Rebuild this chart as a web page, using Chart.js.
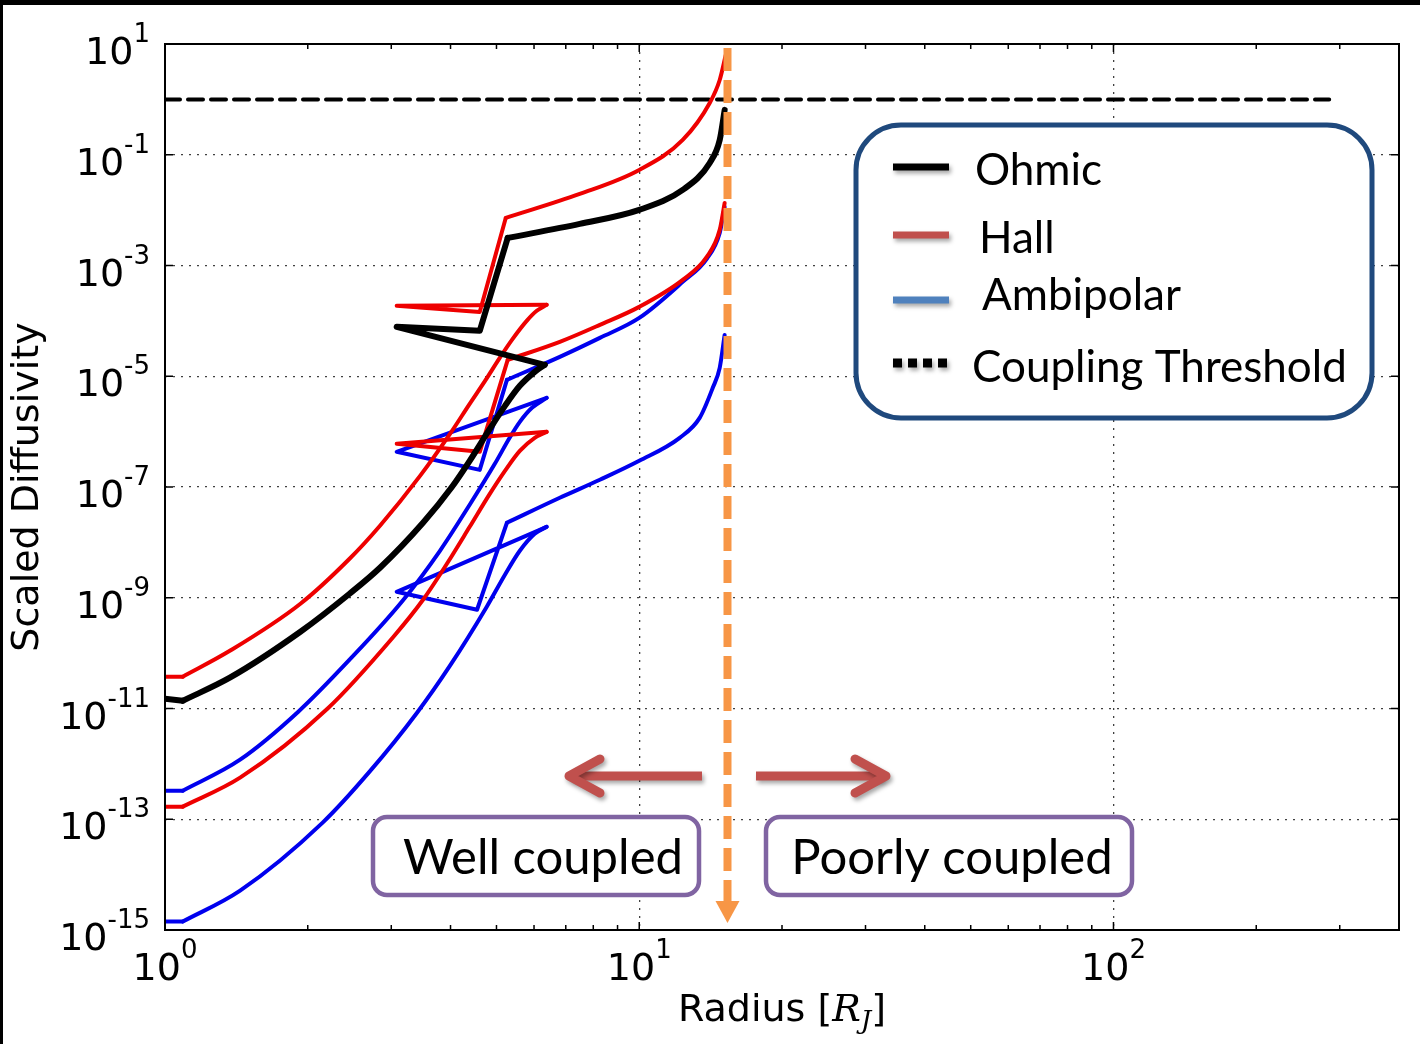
<!DOCTYPE html>
<html>
<head>
<meta charset="utf-8">
<title>Scaled Diffusivity</title>
<script src="https://cdn.jsdelivr.net/npm/chart.js@4.4.0/dist/chart.umd.min.js"></script>
<style>
    html, body { margin: 0; padding: 0; background: #000; }
    #panel { position: absolute; left: 3px; top: 5px; width: 1417px; height: 1039px; background: #fff; }
    canvas { display: block; }
</style>
</head>
<body>
<div id="panel"><canvas id="chart-difusividad" width="1417" height="1039"></canvas></div>
<script>
// Radio en R_J y difusividad escalada de cada curva
const ohmicR = [1.00, 1.09, 1.37, 1.93, 2.45, 2.84, 3.50, 4.03, 4.39, 4.84, 5.21, 5.60, 6.02, 6.32, 3.08, 4.61, 5.28, 7.49, 10.0, 12.35, 14.08, 14.78, 15.14];
const ohmicD = [1.50e-11, 1.38e-11, 3.60e-11, 2.43e-10, 1.18e-9, 3.48e-9, 2.26e-8, 1.01e-7, 2.97e-7, 1.12e-6, 2.92e-6, 6.71e-6, 1.20e-5, 1.61e-5, 7.80e-5, 6.61e-5, 3.15e-3, 5.64e-3, 1.01e-2, 2.32e-2, 7.11e-2, 0.185, 0.646];

const hallUpperR = [1.00, 1.09, 1.37, 1.93, 2.45, 2.84, 3.45, 3.99, 4.39, 4.73, 5.08, 5.39, 5.79, 6.08, 6.38, 3.08, 4.61, 5.23, 7.49, 10.0, 12.35, 14.08, 14.78, 15.22];
const hallUpperD = [3.75e-11, 3.75e-11, 1.10e-10, 7.80e-10, 5.06e-9, 2.0e-8, 1.59e-7, 9.12e-7, 3.18e-6, 8.26e-6, 2.15e-5, 4.54e-5, 1.0e-4, 1.52e-4, 1.95e-4, 1.87e-4, 1.45e-4, 7.23e-3, 1.96e-2, 5.32e-2, 0.185, 0.861, 2.24, 6.31];

const hallLowerR = [1.00, 1.09, 1.44, 2.20, 3.02, 3.50, 3.93, 4.39, 4.84, 5.21, 5.60, 6.02, 6.38, 3.08, 4.61, 5.28, 6.80, 8.26, 10.0, 12.35, 13.88, 14.78, 15.14];
const hallLowerD = [1.69e-13, 1.69e-13, 5.64e-13, 9.9e-12, 1.90e-10, 9.2e-10, 4.11e-9, 1.91e-8, 7.53e-8, 1.96e-7, 4.50e-7, 7.73e-7, 9.9e-7, 6.03e-7, 4.32e-7, 1.98e-5, 4.18e-5, 8.47e-5, 1.79e-4, 5.50e-4, 1.43e-3, 4.40e-3, 1.35e-2];

const ambiUpperR = [1.00, 1.09, 1.44, 1.91, 2.45, 3.17, 3.80, 4.39, 4.96, 5.33, 5.60, 5.94, 6.38, 3.08, 4.61, 5.26, 6.80, 8.26, 10.0, 12.35, 13.88, 14.78, 15.14];
const ambiUpperD = [3.28e-13, 3.28e-13, 1.19e-12, 8.75e-12, 7.6e-11, 8.83e-10, 7.05e-9, 4.78e-8, 2.62e-7, 7.73e-7, 1.50e-6, 2.69e-6, 4.07e-6, 4.32e-7, 2.04e-7, 8.61e-6, 2.24e-5, 4.93e-5, 1.13e-4, 5.06e-4, 1.32e-3, 3.87e-3, 1.14e-2];

const ambiLowerR = [1.00, 1.09, 1.44, 2.15, 2.70, 3.40, 3.99, 4.77, 5.21, 5.60, 6.02, 6.38, 3.08, 4.55, 5.26, 6.80, 8.26, 10.0, 12.17, 13.41, 14.29, 14.78, 15.14];
const ambiLowerD = [1.42e-15, 1.42e-15, 5.14e-15, 8.69e-14, 7.23e-13, 8.39e-12, 5.93e-11, 6.89e-10, 2.60e-9, 7.05e-9, 1.43e-8, 1.91e-8, 1.28e-9, 6.07e-10, 2.26e-8, 6.38e-8, 1.35e-7, 2.97e-7, 7.73e-7, 1.77e-6, 6.18e-6, 1.42e-5, 5.58e-5];

// Umbral de acoplamiento y radio donde se cruza
const thresholdR = [1, 285];
const thresholdD = [1, 1];
const couplingRadius = 15.35;

// Ticks de los ejes
const xTickValues = [1, 10, 100];
const yTickValues = [1e1, 1e-1, 1e-3, 1e-5, 1e-7, 1e-9, 1e-11, 1e-13, 1e-15];

const FUENTE_BASE = '38px "DejaVu Sans"';
const FUENTE_EXP = '26px "DejaVu Sans"';

function puntos(rs, ds) {
    return rs.map((r, i) => ({ x: r, y: ds[i] }));
}

function serie(pts, color, ancho) {
    return {
        data: pts,
        showLine: true,
        borderColor: color,
        borderWidth: ancho,
        pointRadius: 0,
        fill: false
    };
}

// Cada curva: arranque plano, tramo principal hasta el codo, vuelta recta,
// tramo plano, salto y rama superior hasta la asíntota
function tramos(rs, ds, color, ancho) {
    let k = 0;
    while (k < rs.length - 1 && rs[k + 1] > rs[k]) k++;
    const pts = puntos(rs, ds);
    const suave = { cubicInterpolationMode: 'monotone' };
    return [
        serie(pts.slice(0, 2), color, ancho),
        Object.assign(serie(pts.slice(1, k + 1), color, ancho), suave),
        serie(pts.slice(k, k + 4), color, ancho),
        Object.assign(serie(pts.slice(k + 3), color, ancho), suave)
    ];
}

function exponente(v) {
    return String(Math.round(Math.log10(v)));
}

function anchoPotencia(ctx, exp) {
    ctx.font = FUENTE_BASE;
    const w = ctx.measureText('10').width;
    ctx.font = FUENTE_EXP;
    return w + ctx.measureText(exp).width;
}

// Escribe "10" con el exponente como superíndice
function dibujarPotencia(ctx, exp, xIzq, baseY, expY) {
    ctx.font = FUENTE_BASE;
    ctx.fillText('10', xIzq, baseY);
    const w = ctx.measureText('10').width;
    ctx.font = FUENTE_EXP;
    ctx.fillText(exp, xIzq + w, expY);
}

function rectRedondeado(ctx, x0, y0, x1, y1, r) {
    ctx.beginPath();
    ctx.moveTo(x0 + r, y0);
    ctx.lineTo(x1 - r, y0);
    ctx.arcTo(x1, y0, x1, y0 + r, r);
    ctx.lineTo(x1, y1 - r);
    ctx.arcTo(x1, y1, x1 - r, y1, r);
    ctx.lineTo(x0 + r, y1);
    ctx.arcTo(x0, y1, x0, y1 - r, r);
    ctx.lineTo(x0, y0 + r);
    ctx.arcTo(x0, y0, x0 + r, y0, r);
    ctx.closePath();
}

function flecha(ctx, x0, xPunta, y) {
    const dir = Math.sign(xPunta - x0);
    ctx.beginPath();
    ctx.lineCap = 'butt';
    ctx.moveTo(x0, y);
    ctx.lineTo(xPunta - dir * 3, y);
    ctx.stroke();
    ctx.beginPath();
    ctx.lineCap = 'round';
    ctx.lineJoin = 'round';
    ctx.moveTo(xPunta - dir * 31, y - 17);
    ctx.lineTo(xPunta, y);
    ctx.lineTo(xPunta - dir * 31, y + 17);
    ctx.stroke();
}

const decoracion = {
    id: 'decoracion',
    afterDraw(chart) {
        const ctx = chart.ctx;
        const a = chart.chartArea;
        const xs = chart.scales.x;
        const ys = chart.scales.y;
        ctx.save();

        // Marco del área de datos
        ctx.strokeStyle = '#000';
        ctx.lineWidth = 2;
        ctx.strokeRect(a.left, a.top, a.right - a.left, a.bottom - a.top);

        // Ticks hacia adentro
        ctx.lineWidth = 1.5;
        ctx.beginPath();
        for (let dec = 1; dec <= 100; dec *= 10) {
            for (let m = 1; m <= 9; m++) {
                const v = m * dec;
                if (v > xs.max) break;
                const px = xs.getPixelForValue(v);
                const largo = m === 1 ? 8 : 5;
                ctx.moveTo(px, a.bottom); ctx.lineTo(px, a.bottom - largo);
                ctx.moveTo(px, a.top); ctx.lineTo(px, a.top + largo);
            }
        }
        yTickValues.forEach(v => {
            const py = ys.getPixelForValue(v);
            ctx.moveTo(a.left, py); ctx.lineTo(a.left + 8, py);
            ctx.moveTo(a.right, py); ctx.lineTo(a.right - 8, py);
        });
        ctx.stroke();

        // Etiquetas de los ticks
        ctx.fillStyle = '#000';
        ctx.textAlign = 'left';
        ctx.textBaseline = 'alphabetic';
        xTickValues.forEach(v => {
            const exp = exponente(v);
            const px = xs.getPixelForValue(v);
            const w = anchoPotencia(ctx, exp);
            dibujarPotencia(ctx, exp, px - w / 2, a.bottom + 50, a.bottom + 28);
        });
        yTickValues.forEach(v => {
            const exp = exponente(v);
            const py = ys.getPixelForValue(v);
            const w = anchoPotencia(ctx, exp);
            dibujarPotencia(ctx, exp, 147 - w, py + 20, py - 2);
        });

        // Títulos de los ejes
        ctx.save();
        ctx.translate(35, (a.top + a.bottom) / 2);
        ctx.rotate(-Math.PI / 2);
        ctx.textAlign = 'center';
        ctx.font = FUENTE_BASE;
        ctx.fillText('Scaled Diffusivity', 0, 0);
        ctx.restore();

        const partes = [
            { t: 'Radius [', f: '38px "DejaVu Sans"', dy: 0 },
            { t: 'R', f: 'italic 38px "DejaVu Serif"', dy: 0 },
            { t: 'J', f: 'italic 26px "DejaVu Serif"', dy: 8 },
            { t: ']', f: '38px "DejaVu Sans"', dy: 0 }
        ];
        let total = 0;
        partes.forEach(p => { ctx.font = p.f; p.w = ctx.measureText(p.t).width; total += p.w; });
        let cx = (a.left + a.right) / 2 - total / 2;
        partes.forEach(p => {
            ctx.font = p.f;
            ctx.fillText(p.t, cx, 1016 + p.dy);
            cx += p.w;
        });

        // Línea vertical de acoplamiento
        const xc = xs.getPixelForValue(couplingRadius);
        ctx.strokeStyle = '#f79646';
        ctx.fillStyle = '#f79646';
        ctx.lineWidth = 8;
        ctx.setLineDash([23, 9]);
        ctx.beginPath();
        ctx.moveTo(xc, a.top + 4);
        ctx.lineTo(xc, 898);
        ctx.stroke();
        ctx.setLineDash([]);
        ctx.beginPath();
        ctx.moveTo(xc - 12, 896);
        ctx.lineTo(xc + 12, 896);
        ctx.lineTo(xc, 918);
        ctx.closePath();
        ctx.fill();

        // Flechas
        ctx.save();
        ctx.shadowColor = 'rgba(0,0,0,0.35)';
        ctx.shadowBlur = 4;
        ctx.shadowOffsetX = 2;
        ctx.shadowOffsetY = 3;
        ctx.strokeStyle = '#c0504d';
        ctx.lineWidth = 9;
        flecha(ctx, 699, 566, 771);
        flecha(ctx, 753, 883, 771);
        ctx.restore();

        // Cajas de texto
        ctx.lineWidth = 4.5;
        ctx.strokeStyle = '#8064a2';
        [[370, 812, 696, 890, 'Well coupled', 540], [763, 812, 1129, 890, 'Poorly coupled', 949]].forEach(c => {
            rectRedondeado(ctx, c[0], c[1], c[2], c[3], 14);
            ctx.fillStyle = '#fff';
            ctx.fill();
            ctx.stroke();
            ctx.fillStyle = '#000';
            ctx.font = '49px Lato';
            ctx.textAlign = 'center';
            ctx.fillText(c[4], c[5], 869);
        });

        // Leyenda
        rectRedondeado(ctx, 853, 120, 1369, 413, 45);
        ctx.fillStyle = '#fff';
        ctx.fill();
        ctx.lineWidth = 5;
        ctx.strokeStyle = '#1f497d';
        ctx.stroke();

        const items = [
            { label: 'Ohmic', color: '#000', y: 162, tx: 972, ty: 180 },
            { label: 'Hall', color: '#c0504d', y: 230, tx: 976, ty: 248 },
            { label: 'Ambipolar', color: '#4f81bd', y: 295, tx: 979, ty: 305 },
            { label: 'Coupling Threshold', color: '#000', y: 358, tx: 969, ty: 377, puntos: true }
        ];
        items.forEach(it => {
            ctx.save();
            ctx.shadowColor = 'rgba(0,0,0,0.35)';
            ctx.shadowBlur = 4;
            ctx.shadowOffsetX = 2;
            ctx.shadowOffsetY = 3;
            ctx.fillStyle = it.color;
            if (it.puntos) {
                for (let k = 0; k < 4; k++) ctx.fillRect(890 + k * 15, it.y - 4.5, 9, 9);
            } else {
                ctx.fillRect(890, it.y - 3.5, 56, 7);
            }
            ctx.restore();
            ctx.fillStyle = '#000';
            ctx.font = '44px Lato';
            ctx.textAlign = 'left';
            ctx.fillText(it.label, it.tx, it.ty);
        });

        ctx.restore();
    }
};

function colorGrid(ctx) {
    const v = ctx.tick ? ctx.tick.value : null;
    const s = ctx.scale;
    if (v === null || v <= s.min * 1.0001 || v >= s.max * 0.9999) return 'rgba(0,0,0,0)';
    return 'rgba(0,0,0,0.75)';
}

new Chart(document.getElementById('chart-difusividad'), {
    type: 'scatter',
    data: {
        datasets: [
            ...tramos(ohmicR, ohmicD, '#000000', 6),
            ...tramos(hallUpperR, hallUpperD, '#ee0000', 4),
            ...tramos(hallLowerR, hallLowerD, '#ee0000', 4),
            ...tramos(ambiUpperR, ambiUpperD, '#0000ee', 4),
            ...tramos(ambiLowerR, ambiLowerD, '#0000ee', 4),
            Object.assign(serie(puntos(thresholdR, thresholdD), '#000000', 4), { borderDash: [15, 8] })
        ]
    },
    options: {
        responsive: false,
        animation: false,
        devicePixelRatio: 1,
        layout: { padding: { top: 39, right: 21, left: 0, bottom: 0 } },
        elements: { line: { tension: 0, borderJoinStyle: 'round', borderCapStyle: 'round' } },
        plugins: {
            legend: { display: false },
            tooltip: { enabled: false }
        },
        scales: {
            x: {
                type: 'logarithmic',
                min: 1,
                max: 400,
                afterBuildTicks: s => { s.ticks = xTickValues.map(v => ({ value: v })); },
                afterFit: s => { s.height = 114; },
                ticks: { display: false },
                grid: { drawTicks: false, color: colorGrid, lineWidth: 1.3 },
                border: { display: false, dash: [2, 6] }
            },
            y: {
                type: 'logarithmic',
                min: 1e-15,
                max: 10,
                afterBuildTicks: s => { s.ticks = yTickValues.map(v => ({ value: v })); },
                afterFit: s => { s.width = 162; },
                ticks: { display: false },
                grid: { drawTicks: false, color: colorGrid, lineWidth: 1.3 },
                border: { display: false, dash: [2, 6] }
            }
        }
    },
    plugins: [decoracion]
});
</script>
</body>
</html>
